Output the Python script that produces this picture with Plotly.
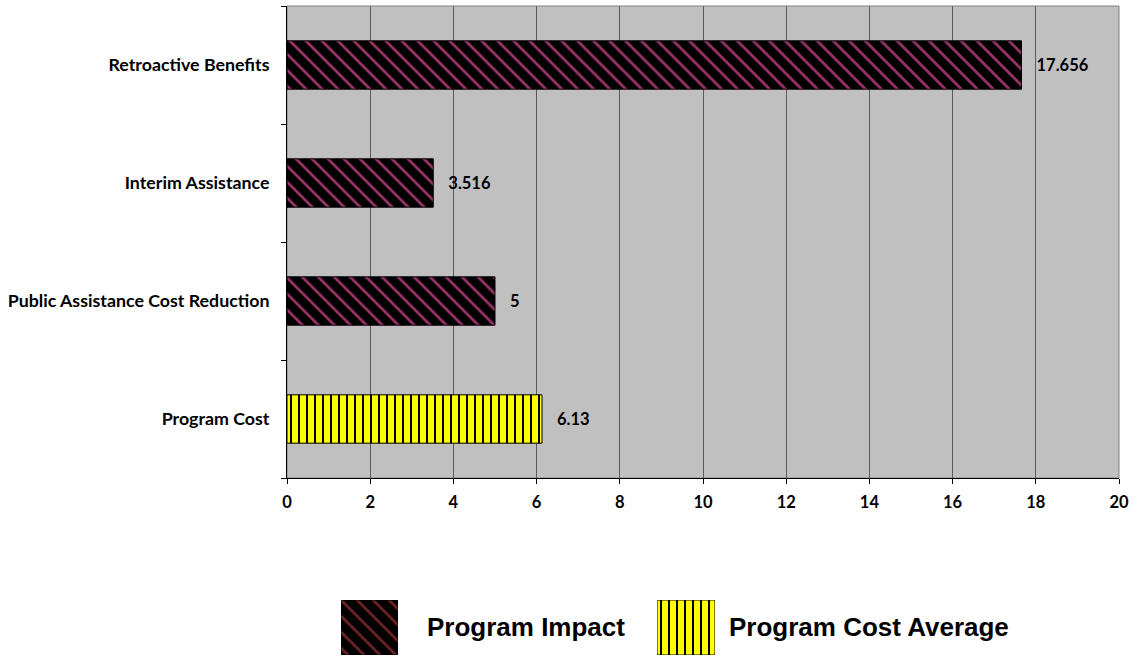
import plotly.graph_objects as go

# ---- data ----
categories = ["Program Cost", "Public Assistance Cost Reduction", "Interim Assistance", "Retroactive Benefits"]
impact_categories = ["Public Assistance Cost Reduction", "Interim Assistance", "Retroactive Benefits"]
impact_values = [5, 3.516, 17.656]
impact_labels = ["5", "3.516", "17.656"]
cost_categories = ["Program Cost"]
cost_values = [6.13]
cost_labels = ["6.13"]
legend_names = ["Program Impact", "Program Cost Average"]
x_ticks = [0, 2, 4, 6, 8, 10, 12, 14, 16, 18, 20]

# ---- styles ----
W, H = 1133, 656
styles = {
    "Program Impact": dict(shape="\\", fg="#993366", bg="#000000", size=11.3, solidity=0.25),
    "Program Cost Average": dict(shape="|", fg="#000000", bg="#FFFF00", size=8, solidity=0.25),
}
legend_fg = {"Program Impact": "#6b2222", "Program Cost Average": "#000000"}
FONT = "Lato"

def px_x(p):
    return p / W

def px_y(p):
    return (H - p) / H

def pattern(st, fg):
    return dict(shape=st["shape"], fgcolor=fg, bgcolor=st["bg"], size=st["size"],
                solidity=st["solidity"], fillmode="replace", fgopacity=1)

fig = go.Figure()

series = [
    ("Program Impact", impact_categories, impact_values, impact_labels),
    ("Program Cost Average", cost_categories, cost_values, cost_labels),
]
for name, cats, vals, labs in series:
    st = styles[name]
    fig.add_trace(go.Bar(
        name=name, x=vals, y=cats, orientation="h", width=0.41,
        marker=dict(color=st["bg"], line=dict(color="#000000", width=1),
                    pattern=pattern(st, st["fg"])),
        text=["   " + t for t in labs],
        textposition="outside",
        textfont=dict(family=FONT, size=16.5, color="#000000", weight="bold"),
        cliponaxis=False, showlegend=False, hoverinfo="skip",
        xaxis="x", yaxis="y",
    ))

# legend swatches as tiny bar charts on their own axes
swatch_x = {"Program Impact": (341, 398), "Program Cost Average": (657, 715)}
text_x = {"Program Impact": 425, "Program Cost Average": 727}
for i, name in enumerate(legend_names):
    ax = str(i + 2)
    st = styles[name]
    fig.add_trace(go.Bar(
        x=[0], y=[1], width=1,
        marker=dict(color=st["bg"], line=dict(color="#000000", width=1),
                    pattern=pattern(st, legend_fg[name])),
        showlegend=False, hoverinfo="skip",
        xaxis="x" + ax, yaxis="y" + ax,
    ))
    x0, x1 = swatch_x[name]
    hidden = dict(visible=False, fixedrange=True)
    fig.layout["xaxis" + ax] = dict(domain=[px_x(x0), px_x(x1)], range=[-0.5, 0.5], anchor="y" + ax, **hidden)
    fig.layout["yaxis" + ax] = dict(domain=[px_y(655), px_y(600)], range=[0, 1], anchor="x" + ax, **hidden)
    fig.add_annotation(
        x=px_x(text_x[name]), y=px_y(627), xref="paper", yref="paper",
        text=name, showarrow=False, xanchor="left", yanchor="middle",
        font=dict(family="Liberation Sans, Arial", size=26, color="#000000", weight="bold"),
    )

plot_l, plot_r, plot_t, plot_b = 287, 1119, 6, 478

fig.update_layout(
    width=W, height=H,
    margin=dict(l=0, r=0, t=0, b=0),
    paper_bgcolor="#FFFFFF",
    plot_bgcolor="#C0C0C0",
    showlegend=False,
    barmode="overlay",
    xaxis=dict(
        domain=[px_x(plot_l), px_x(plot_r)],
        range=[0, 20], tickvals=x_ticks, ticktext=[str(v) for v in x_ticks],
        showgrid=True, gridcolor="#5a5a5a", gridwidth=1,
        showline=True, linecolor="#000000", linewidth=1,
        ticks="outside", ticklen=5, tickcolor="#000000", ticklabelstandoff=4,
        tickfont=dict(family=FONT, size=16.5, color="#000000", weight="bold"),
        zeroline=False, automargin=False, anchor="y", fixedrange=True,
    ),
    yaxis=dict(
        domain=[px_y(plot_b), px_y(plot_t)],
        type="category", categoryorder="array", categoryarray=categories,
        range=[-0.5, 3.5],
        showline=True, linecolor="#000000", linewidth=1,
        ticks="outside", ticklen=5, tickcolor="#000000", tickson="boundaries",
        showgrid=False,
        tickfont=dict(family=FONT, size=17.8, color="#000000", weight="bold"),
        ticksuffix="   ",
        automargin=False, anchor="x", fixedrange=True,
    ),
)

# plot-area outline (top/right)
fig.add_shape(type="rect", xref="paper", yref="paper",
              x0=px_x(plot_l), x1=px_x(plot_r), y0=px_y(plot_b), y1=px_y(plot_t),
              line=dict(color="#808080", width=1), layer="below")

fig.write_html("out.html", config={"displayModeBar": False},
               post_script="document.body.style.margin='0';document.body.style.overflow='hidden';")
